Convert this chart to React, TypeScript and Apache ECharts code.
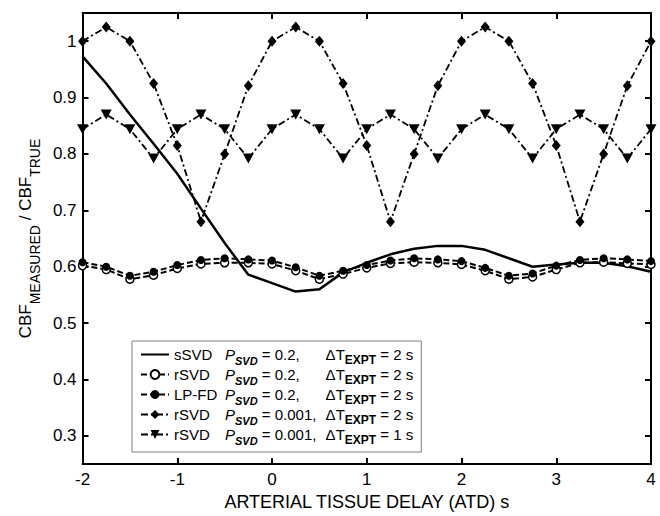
import React, { useEffect, useRef } from 'react';
import * as echarts from 'echarts';

const FONT = '"Liberation Sans", Arial, Helvetica, sans-serif';

const atd = [-2, -1.75, -1.5, -1.25, -1, -0.75, -0.5, -0.25, 0, 0.25, 0.5, 0.75, 1, 1.25, 1.5, 1.75, 2, 2.25, 2.5, 2.75, 3, 3.25, 3.5, 3.75, 4];

const sSVD = [0.973, 0.925, 0.87, 0.818, 0.765, 0.703, 0.642, 0.586, 0.571, 0.556, 0.56, 0.59, 0.607, 0.622, 0.632, 0.637, 0.637, 0.63, 0.615, 0.6, 0.604, 0.607, 0.607, 0.601, 0.591];
const rSVD02 = [0.602, 0.595, 0.578, 0.585, 0.597, 0.605, 0.607, 0.607, 0.605, 0.593, 0.578, 0.587, 0.598, 0.606, 0.608, 0.607, 0.604, 0.593, 0.578, 0.582, 0.595, 0.607, 0.608, 0.606, 0.604];
const lpfd = [0.608, 0.6, 0.584, 0.591, 0.603, 0.612, 0.615, 0.613, 0.611, 0.599, 0.584, 0.593, 0.603, 0.611, 0.615, 0.613, 0.61, 0.598, 0.584, 0.588, 0.602, 0.612, 0.615, 0.613, 0.61];
const rSVD001dt2 = [1.0, 1.025, 1.0, 0.925, 0.815, 0.68, 0.8, 0.921, 1.0, 1.025, 1.0, 0.925, 0.815, 0.68, 0.8, 0.921, 1.0, 1.025, 1.0, 0.925, 0.815, 0.68, 0.8, 0.921, 1.0];
const rSVD001dt1 = [0.844, 0.87, 0.844, 0.792, 0.844, 0.87, 0.844, 0.792, 0.844, 0.87, 0.844, 0.792, 0.844, 0.87, 0.844, 0.792, 0.844, 0.87, 0.844, 0.792, 0.844, 0.87, 0.844, 0.792, 0.844];

const yTicks = [0.3, 0.4, 0.5, 0.6, 0.7, 0.8, 0.9, 1];

const seriesIds = ['s1', 's2', 's3', 's4', 's5'];
const methods = ['sSVD', 'rSVD', 'LP-FD', 'rSVD', 'rSVD'];
const pValues = ['0.2,', '0.2,', '0.2,', '0.001,', '0.001,'];
const dtValues = ['2 s', '2 s', '2 s', '2 s', '1 s'];

const pair = (ys: number[]) => atd.map((x, i) => [x, ys[i]]);

export default function App() {
  const ref = useRef<HTMLDivElement>(null);
  useEffect(() => {
    const chart = echarts.init(ref.current!, null, { renderer: 'svg' });
    const axisLine = { show: true, onZero: false, lineStyle: { color: '#000', width: 2 } };
    const axisTick = { show: true, inside: true, length: 6, lineStyle: { color: '#000', width: 2 } };
    const dashed = [6, 3];
    const dashDot = [7, 3, 2, 3];
    const option: any = {
      animation: false,
      backgroundColor: '#fff',
      textStyle: { fontFamily: FONT, color: '#000' },
      grid: { left: 73, right: 9, top: 13, bottom: 45 },
      xAxis: [
        {
          type: 'value', min: -2, max: 4, interval: 1, position: 'bottom',
          axisLine, axisTick,
          axisLabel: { color: '#000', fontSize: 17, margin: 7, fontFamily: FONT },
          splitLine: { show: false },
          name: 'ARTERIAL TISSUE DELAY (ATD) s', nameLocation: 'middle', nameGap: 27,
          nameTextStyle: { fontSize: 18, color: '#000', fontFamily: FONT },
        },
        {
          type: 'value', min: -2, max: 4, interval: 1, position: 'top',
          axisLine, axisTick, axisLabel: { show: false }, splitLine: { show: false },
        },
      ],
      yAxis: [
        {
          type: 'value', min: 0.25, max: 1.05, position: 'left',
          axisLine,
          axisTick: { ...axisTick, customValues: yTicks },
          axisLabel: {
            color: '#000', fontSize: 17, margin: 6, fontFamily: FONT, customValues: yTicks,
            formatter: (v: number) => String(Math.round(v * 10) / 10),
          },
          splitLine: { show: false },
          name: '{m|CBF}{s|MEASURED}{m| / CBF}{s|TRUE}',
          nameLocation: 'middle', nameGap: 42, nameRotate: 90,
          nameTextStyle: {
            color: '#000', fontFamily: FONT,
            rich: {
              m: { fontSize: 17, lineHeight: 20, fontFamily: FONT, color: '#000' },
              s: { fontSize: 14, lineHeight: 20, padding: [20, 0, 0, 0], fontFamily: FONT, color: '#000' },
            },
          },
        },
        {
          type: 'value', min: 0.25, max: 1.05, position: 'right',
          axisLine,
          axisTick: { ...axisTick, customValues: yTicks },
          axisLabel: { show: false, customValues: yTicks },
          splitLine: { show: false },
        },
      ],
      legend: {
        orient: 'vertical', left: 132, top: 341,
        itemWidth: 28, itemHeight: 11, itemGap: -3,
        padding: [2, 8, 6, 8],
        borderColor: '#808080', borderWidth: 1, backgroundColor: '#fff',
        data: [
          { name: 's1', itemStyle: { opacity: 0 } },
          { name: 's2' }, { name: 's3' }, { name: 's4' }, { name: 's5' },
        ],
        formatter: (name: string) => {
          const i = seriesIds.indexOf(name);
          return `{n|${methods[i]}}{p|P}{s|SVD}{t| = ${pValues[i]}}{d|\u0394T}{e|EXPT}{u| = ${dtValues[i]}}`;
        },
        textStyle: {
          color: '#000', fontFamily: FONT, fontSize: 15,
          rich: {
            n: { fontSize: 15, lineHeight: 16, width: 51, fontFamily: FONT, color: '#000' },
            p: { fontSize: 15, lineHeight: 16, fontStyle: 'italic', fontFamily: FONT, color: '#000' },
            s: { fontSize: 11, lineHeight: 16, fontStyle: 'italic', fontWeight: 'bold', padding: [12, 0, 0, 0], fontFamily: FONT, color: '#000' },
            t: { fontSize: 15, lineHeight: 16, width: 68, fontFamily: FONT, color: '#000' },
            d: { fontSize: 15, lineHeight: 16, fontFamily: FONT, color: '#000' },
            e: { fontSize: 12, lineHeight: 16, fontWeight: 'bold', padding: [11, 0, 0, 0], fontFamily: FONT, color: '#000' },
            u: { fontSize: 15, lineHeight: 16, fontFamily: FONT, color: '#000' },
          },
        },
      },
      series: [
        {
          name: 's1', type: 'line', data: pair(sSVD), symbol: 'none',
          lineStyle: { color: '#000', width: 2.5, type: 'solid' }, itemStyle: { color: '#000' }, z: 3,
        },
        {
          name: 's2', type: 'line', data: pair(rSVD02), symbol: 'circle', symbolSize: 8,
          lineStyle: { color: '#000', width: 2, type: dashed },
          itemStyle: { color: '#fff', borderColor: '#000', borderWidth: 1.5 },
        },
        {
          name: 's3', type: 'line', data: pair(lpfd), symbol: 'circle', symbolSize: 8,
          lineStyle: { color: '#000', width: 2, type: dashed },
          itemStyle: { color: '#000' },
        },
        {
          name: 's4', type: 'line', data: pair(rSVD001dt2), symbol: 'diamond', symbolSize: [9, 11],
          lineStyle: { color: '#000', width: 1.8, type: dashDot },
          itemStyle: { color: '#000' },
        },
        {
          name: 's5', type: 'line', data: pair(rSVD001dt1), symbol: 'triangle', symbolRotate: 180, symbolSize: [11, 10],
          lineStyle: { color: '#000', width: 1.8, type: dashDot },
          itemStyle: { color: '#000' },
        },
      ],
    };
    chart.setOption(option);
    return () => chart.dispose();
  }, []);
  return <div ref={ref} style={{ position: 'absolute', left: 0, top: 0, width: 660, height: 516 }} />;
}
